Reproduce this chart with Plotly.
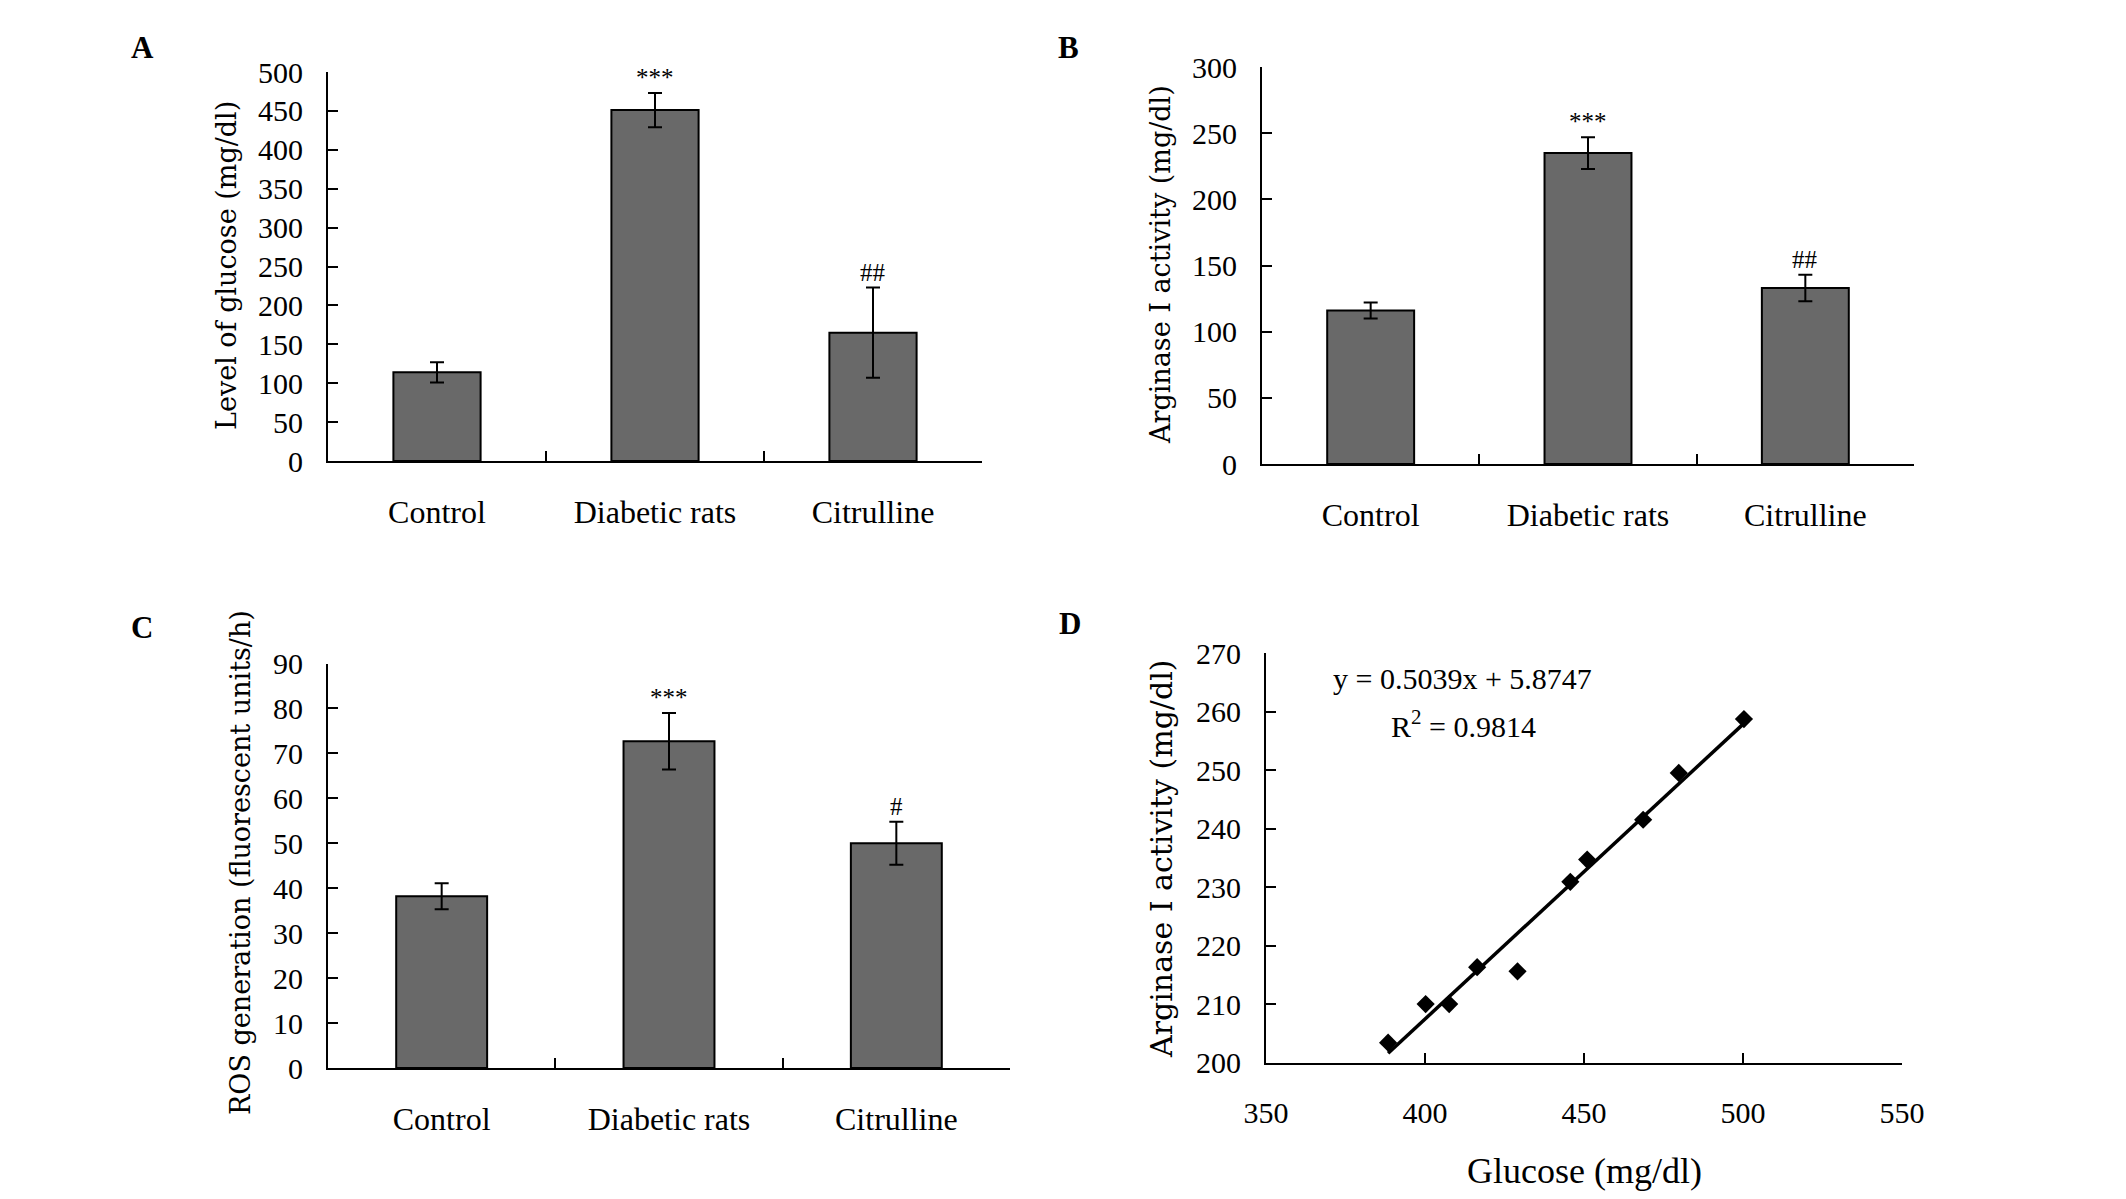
import plotly.graph_objects as go

W, H = 2126, 1199
OFF = 8  # the page body adds an 8 px margin; compensate so marks land where measured

# ---------------- data ----------------
groups = ["Control", "Diabetic rats", "Citrulline"]

glucose_mean = [114, 451, 165]
glucose_err = [13, 22, 58]
glucose_sig = ["", "***", "##"]

arginase_mean = [116, 235, 133]
arginase_err = [6, 12, 10]
arginase_sig = ["", "***", "##"]

ros_mean = [38.2, 72.7, 50.0]
ros_err = [2.9, 6.3, 4.8]
ros_sig = ["", "***", "#"]

corr_glucose = [388.4, 400.2, 407.6, 416.4, 429.1, 445.7, 451.0, 468.6, 479.8, 500.3]
corr_arginase = [203.4, 210.0, 210.0, 216.3, 215.6, 230.9, 234.7, 241.5, 249.5, 258.7]
fit_slope = 0.5039
fit_intercept = 5.8747
fit_r2 = 0.9814

ticks_A = [0, 50, 100, 150, 200, 250, 300, 350, 400, 450, 500]
ticks_B = [0, 50, 100, 150, 200, 250, 300]
ticks_C = [0, 10, 20, 30, 40, 50, 60, 70, 80, 90]
ticks_Dx = [350, 400, 450, 500, 550]
ticks_Dy = [200, 210, 220, 230, 240, 250, 260, 270]

# ---------------- style ----------------
SERIF = "Liberation Serif"
WIDE = "DejaVu Serif"
BAR = "#696969"
TICKF = 30
CATF = 32


def px_x(a, b):
    return [(a - OFF) / W, (b - OFF) / W]


def px_y(top, bottom):
    return [1 - (bottom - OFF) / H, 1 - (top - OFF) / H]


def note(cx, cy, text, size, family=SERIF, angle=0):
    fig.add_annotation(x=(cx - OFF) / W, y=1 - (cy - OFF) / H,
                       xref="paper", yref="paper",
                       text=text, textangle=angle, showarrow=False,
                       xanchor="center", yanchor="middle",
                       font=dict(family=family, size=size, color="black"))


fig = go.Figure()


def add_bars(xa, ya, means, errs, sigs):
    fig.add_trace(go.Bar(
        x=groups, y=means, xaxis=xa, yaxis=ya,
        marker=dict(color=BAR, line=dict(color="black", width=2)),
        width=0.4,
        error_y=dict(type="data", array=errs, visible=True,
                     color="black", thickness=2, width=7),
        showlegend=False,
    ))
    for g, m, e, s in zip(groups, means, errs, sigs):
        if s:
            fig.add_annotation(x=g, y=m + e, xref=xa, yref=ya, text=s,
                               showarrow=False, xanchor="center",
                               yanchor="bottom", yshift=0,
                               font=dict(family=SERIF, size=25, color="black"))


add_bars("x", "y", glucose_mean, glucose_err, glucose_sig)
add_bars("x2", "y2", arginase_mean, arginase_err, arginase_sig)
add_bars("x3", "y3", ros_mean, ros_err, ros_sig)

# scatter + regression line
fig.add_trace(go.Scatter(
    x=corr_glucose, y=corr_arginase, xaxis="x4", yaxis="y4", mode="markers",
    marker=dict(symbol="diamond", size=14, color="black"), showlegend=False))
fx = [min(corr_glucose), max(corr_glucose)]
fy = [fit_slope * v + fit_intercept for v in fx]
fig.add_trace(go.Scatter(
    x=fx, y=fy, xaxis="x4", yaxis="y4", mode="lines",
    line=dict(color="black", width=3.5), showlegend=False))

cat_x = dict(type="category", range=[-0.5, 2.5], tickson="boundaries",
             ticks="inside", ticklen=10, tickwidth=2, tickcolor="black",
             showline=True, linecolor="black", linewidth=2, showgrid=False,
             zeroline=False, ticklabelstandoff=22, automargin=False,
             tickfont=dict(family=SERIF, size=CATF, color="black"), fixedrange=True)


def num_y(rng, vals, dom, anchor):
    return dict(range=rng, tickvals=vals, ticks="inside", ticklen=10, tickwidth=2,
                tickcolor="black", showline=True, linecolor="black", linewidth=2,
                showgrid=False, zeroline=False, ticklabelstandoff=17,
                automargin=False,
                tickfont=dict(family=SERIF, size=TICKF, color="black"),
                domain=dom, anchor=anchor, fixedrange=True)


fig.update_layout(
    template="none",
    width=W, height=H, autosize=False,
    margin=dict(l=0, r=0, t=0, b=0, pad=0, autoexpand=False),
    paper_bgcolor="white", plot_bgcolor="white",
    bargap=0.6,
    xaxis=dict(cat_x, domain=px_x(328, 982), anchor="y"),
    yaxis=num_y([0, 500], ticks_A, px_y(72, 461), "x"),
    xaxis2=dict(cat_x, domain=px_x(1262, 1914), anchor="y2"),
    yaxis2=num_y([0, 300], ticks_B, px_y(67, 464), "x2"),
    xaxis3=dict(cat_x, domain=px_x(328, 1010), anchor="y3"),
    yaxis3=num_y([0, 90], ticks_C, px_y(663.5, 1068), "x3"),
    xaxis4=dict(range=[350, 550], tickvals=ticks_Dx, ticks="inside", ticklen=10,
                tickwidth=2, tickcolor="black", showline=True, linecolor="black",
                linewidth=2, showgrid=False, zeroline=False, ticklabelstandoff=22,
                automargin=False,
                tickfont=dict(family=SERIF, size=TICKF, color="black"),
                domain=px_x(1266, 1902), anchor="y4", fixedrange=True),
    yaxis4=num_y([200, 270], ticks_Dy, px_y(653, 1062.6), "x4"),
)

# axis titles
note(227, 266, "Level of glucose (mg/dl)", 27, WIDE, -90)
note(1161, 265, "Arginase I activity (mg/dl)", 27, WIDE, -90)
note(240, 863, "ROS generation (fluorescent units/h)", 27, WIDE, -90)
note(1161, 859, "Arginase I activity (mg/dl)", 30, WIDE, -90)
note(1584, 1171, "Glucose (mg/dl)", 36)

# regression text
note(1462, 678, f"y = {fit_slope}x + {fit_intercept}", 30)
note(1463, 724, f"R<sup>2</sup> = {fit_r2}", 30)

# panel letters
for L, cx, cy in [("A", 142, 48), ("B", 1068, 48), ("C", 142, 627), ("D", 1070, 623)]:
    note(cx, cy, f"<b>{L}</b>", 31)

fig.write_html("out.html")
